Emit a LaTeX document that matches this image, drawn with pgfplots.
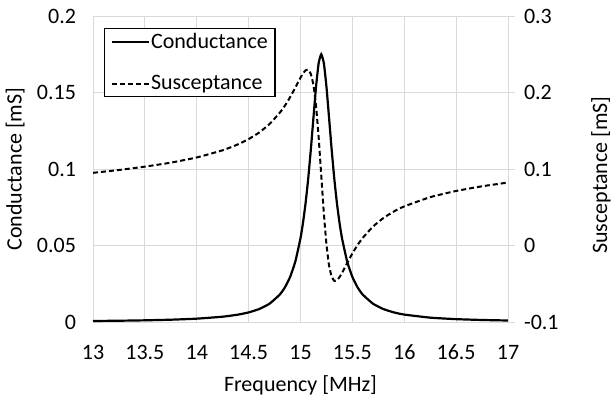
\documentclass[border=0pt]{standalone}
\usepackage{pgfplots}
\pgfplotsset{compat=1.18}
\usepackage{pgfplotstable}
\usepackage{fontspec}
\setmainfont{Carlito}
\definecolor{gridgray}{HTML}{D9D9D9}

\pgfplotstableread{
f G
13.0 0.000656
13.25 0.000835
13.5 0.001097
13.75 0.001504
14.0 0.002187
14.25 0.003464
14.4 0.004845
14.5 0.006275
14.6 0.008434
14.7 0.01189
14.8 0.01790
14.85 0.02266
14.9 0.02947
14.95 0.03950
15.0 0.05477
15.025 0.0653
15.05 0.0783
15.075 0.0942
15.1 0.1130
15.125 0.1337
15.15 0.1539
15.175 0.1692
15.2 0.1750
15.225 0.1692
15.25 0.1539
15.275 0.1337
15.3 0.1130
15.325 0.0942
15.35 0.0783
15.375 0.0653
15.4 0.05477
15.45 0.0395
15.5 0.02947
15.55 0.02266
15.6 0.0179
15.7 0.01189
15.8 0.008434
15.9 0.006275
16.0 0.004845
16.25 0.002846
16.5 0.001867
16.75 0.001318
17.0 0.000979
}\condtable

\pgfplotstableread{
f B
13.0 0.0950
13.25 0.0987
13.5 0.1031
13.75 0.1083
14.0 0.1151
14.25 0.1245
14.4 0.1324
14.5 0.1391
14.6 0.1475
14.7 0.1586
14.8 0.1735
14.85 0.1829
14.9 0.1939
14.95 0.2064
15.0 0.2194
15.025 0.2251
15.05 0.2290
15.075 0.2296
15.1 0.2241
15.125 0.2094
15.15 0.1819
15.175 0.1413
15.2 0.0918
15.225 0.0422
15.25 0.0016
15.275 -0.0259
15.3 -0.0406
15.325 -0.0461
15.35 -0.0455
15.375 -0.0416
15.4 -0.0359
15.45 -0.0229
15.5 -0.0104
15.55 0.0006
15.6 0.0100
15.7 0.0249
15.8 0.0360
15.9 0.0445
16.0 0.0511
16.25 0.0632
16.5 0.0713
16.75 0.0774
17.0 0.0823
}\susctable

\begin{document}
\begin{tikzpicture}[font=\fontsize{22bp}{26bp}\selectfont]
\begin{axis}[
  name=ax,
  scale only axis,
  width=415bp, height=306bp,
  xmin=13, xmax=17, ymin=0, ymax=0.2,
  xtick={13,13.5,14,14.5,15,15.5,16,16.5,17},
  xticklabels={13,13.5,14,14.5,15,15.5,16,16.5,17},
  ytick={0,0.05,0.1,0.15,0.2},
  yticklabels={0,0.05,0.1,0.15,0.2},
  major tick length=0pt,
  grid=major,
  grid style={draw=gridgray, line width=0.8bp},
  axis line style={draw=gridgray, line width=0.8bp},
  xticklabel style={anchor=base, yshift=-37bp},
  yticklabel style={anchor=east, xshift=-13.5bp},
  xlabel={Frequency [MHz]},
  ylabel={Conductance [mS]},
  xlabel style={at={(axis description cs:0.5,0)}, anchor=base, yshift=-69bp},
  every axis y label/.style={at={(axis description cs:-0.172,0.5)}, anchor=base, rotate=90},
]
\addplot[black, line width=2.2bp, smooth, tension=0.3] table[x=f, y=G] {\condtable};
\end{axis}
\begin{axis}[
  scale only axis,
  width=415bp, height=306bp,
  xmin=13, xmax=17, ymin=-0.1, ymax=0.3,
  axis x line=none,
  axis y line*=right,
  ytick={-0.1,0,0.1,0.2,0.3},
  yticklabels={-0.1,0,0.1,0.2,0.3},
  tick align=outside,
  major tick length=7bp,
  tick style={draw=gridgray, line width=0.8bp},
  axis line style={draw=gridgray, line width=0.8bp, -},
  yticklabel style={anchor=west, xshift=5.5bp},
  every axis y label/.style={at={(axis description cs:1.2386,0.48)}, anchor=base, rotate=90},
  ylabel={Susceptance [mS]},
  legend cell align=left,
  legend image code/.code={\draw[#1] (0bp,0bp) -- (37bp,0bp);},
  legend style={at={(axis description cs:0.0265,0.962)}, anchor=north west,
    draw=black, line width=1.4bp, fill=white,
    inner xsep=6bp, inner ysep=4bp, row sep=23bp,
    nodes={inner sep=1.2bp}},
]
\addlegendimage{black, line width=2.2bp}
\addlegendentry{Conductance}
\addplot[black, line width=2bp, dash pattern=on 5bp off 3bp, smooth, tension=0.3] table[x=f, y=B] {\susctable};
\addlegendentry{Susceptance}
\end{axis}
\pgfresetboundingbox
\path[use as bounding box] (ax.south west) ++(-93bp,-76bp) rectangle ++(611bp,398bp);
\end{tikzpicture}
\end{document}
